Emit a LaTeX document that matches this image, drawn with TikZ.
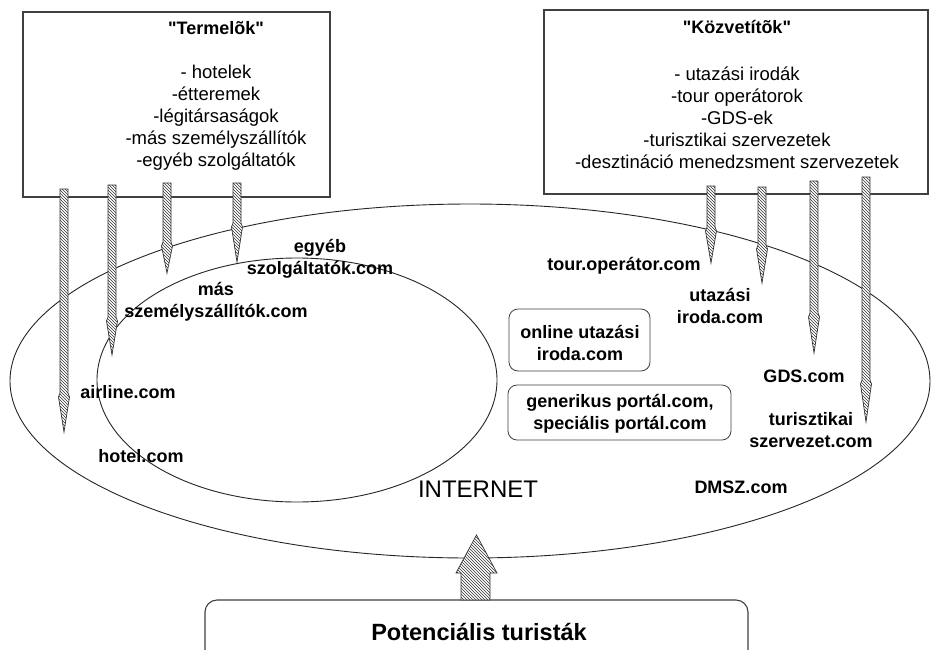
\documentclass[tikz,border=0pt]{standalone}
\usepackage{fontspec}
\setmainfont{Liberation Sans}[Ligatures=TeXOff]
\usetikzlibrary{patterns}

\tikzset{
  frame/.style={draw=black!75, line width=1.1pt},
  ring/.style={draw=black!85, line width=0.9pt},
  hatched/.style={draw=black!80, line width=0.7pt, pattern=north west lines, pattern color=black!80},
  heading/.style={font=\bfseries\fontsize{18}{22}\selectfont, inner sep=0pt},
  listtxt/.style={font=\fontsize{18.5}{22}\selectfont, align=center, inner sep=0pt},
  lbl/.style={font=\bfseries\fontsize{18}{22.5}\selectfont, align=center, inner sep=0pt},
  tagbox/.style={draw=black!75, line width=0.8pt, rounded corners=9pt},
}

% narrow hatched pencil arrow: x, top, start of head, tip
\newcommand\pencilarrow[4]{%
  \fill[white] (#1-4,#2) -- (#1+4,#2) -- (#1+4,#3) -- (#1+5.5,#3+4) -- (#1,#4)
    -- (#1-5.5,#3+4) -- (#1-4,#3) -- cycle;
  \path[hatched] (#1-4,#2) -- (#1+4,#2) -- (#1+4,#3) -- (#1+5.5,#3+4) -- (#1,#4)
    -- (#1-5.5,#3+4) -- (#1-4,#3) -- cycle;}

\begin{document}
\begin{tikzpicture}[x=1pt, y=-1pt]
\useasboundingbox (0,0) rectangle (938,649);
\clip (0,0) rectangle (938,649);
\fill[white] (0,0) rectangle (938,649);

% suppliers and intermediaries
\draw[frame] (23,12) rectangle (330,197);
\draw[frame] (544,10) rectangle (928,194);
\node[heading] (prodhead) at (216,28) {"Termelõk"};
\node[listtxt] (prodlist) at (216,118) {- hotelek\\-étteremek\\-légitársaságok\\-más személyszállítók\\-egyéb szolgáltatók};
\node[heading] (inthead) at (737,27) {"Közvetítõk"};
\node[listtxt] (intlist) at (737,118) {- utazási irodák\\-tour operátorok\\-GDS-ek\\-turisztikai szervezetek\\-desztináció menedzsment szervezetek};

% the internet and the suppliers' own sites
\draw[ring] (470,381) ellipse [x radius=460pt, y radius=177pt];
\draw[ring] (297,380) ellipse [x radius=200pt, y radius=122pt];

% arrows from the suppliers
\pencilarrow{64}{189}{393}{432}
\pencilarrow{112}{185}{317}{355}
\pencilarrow{167}{183}{242}{273}
\pencilarrow{237}{183}{223}{262}
% arrows from the intermediaries
\pencilarrow{711}{186}{227}{263}
\pencilarrow{762}{187}{245}{283}
\pencilarrow{814}{181}{313}{353}
\pencilarrow{866}{177}{380}{422}

% site labels
\node[lbl] (egyeb) at (320,259) {egyéb\\szolgáltatók.com};
\node[lbl] (mas) at (216,302) {más\\személyszállítók.com};
\node[lbl] (airline) at (128,392) {airline.com};
\node[lbl] (hotel) at (141,456) {hotel.com};
\node[lbl] (tour) at (624,266) {tour.operátor.com};
\node[lbl] (utazasi) at (720,306) {utazási\\iroda.com};
\node[lbl] (gds) at (804,376) {GDS.com};
\node[lbl] (turiszt) at (811,430) {turisztikai\\szervezet.com};
\node[lbl] (dmsz) at (741,487) {DMSZ.com};
\node[font=\fontsize{24}{28}\selectfont, inner sep=0pt] (internet) at (478,489) {INTERNET};

% portals inside the internet
\draw[tagbox] (509,309) rectangle (650,371);
\node[lbl] (online) at (580,343) {online utazási\\iroda.com};
\draw[tagbox] (508,385) rectangle (731,440);
\node[lbl] (portal) at (620,414) {generikus portál.com,\\speciális portál.com};

% potential tourists
\draw[frame, rounded corners=12pt] (205,600) rectangle (748,680);
\node[font=\bfseries\fontsize{23.5}{28}\selectfont, inner sep=0pt] (tourists) at (479,632) {Potenciális turisták};

% block arrow up into the internet
\fill[white] (461,600) -- (461,573) -- (456,573) -- (476.5,535) -- (497,573) -- (490,573) -- (490,600) -- cycle;
\path[hatched] (461,600) -- (461,573) -- (456,573) -- (476.5,535) -- (497,573) -- (490,573) -- (490,600) -- cycle;
\end{tikzpicture}
\end{document}
